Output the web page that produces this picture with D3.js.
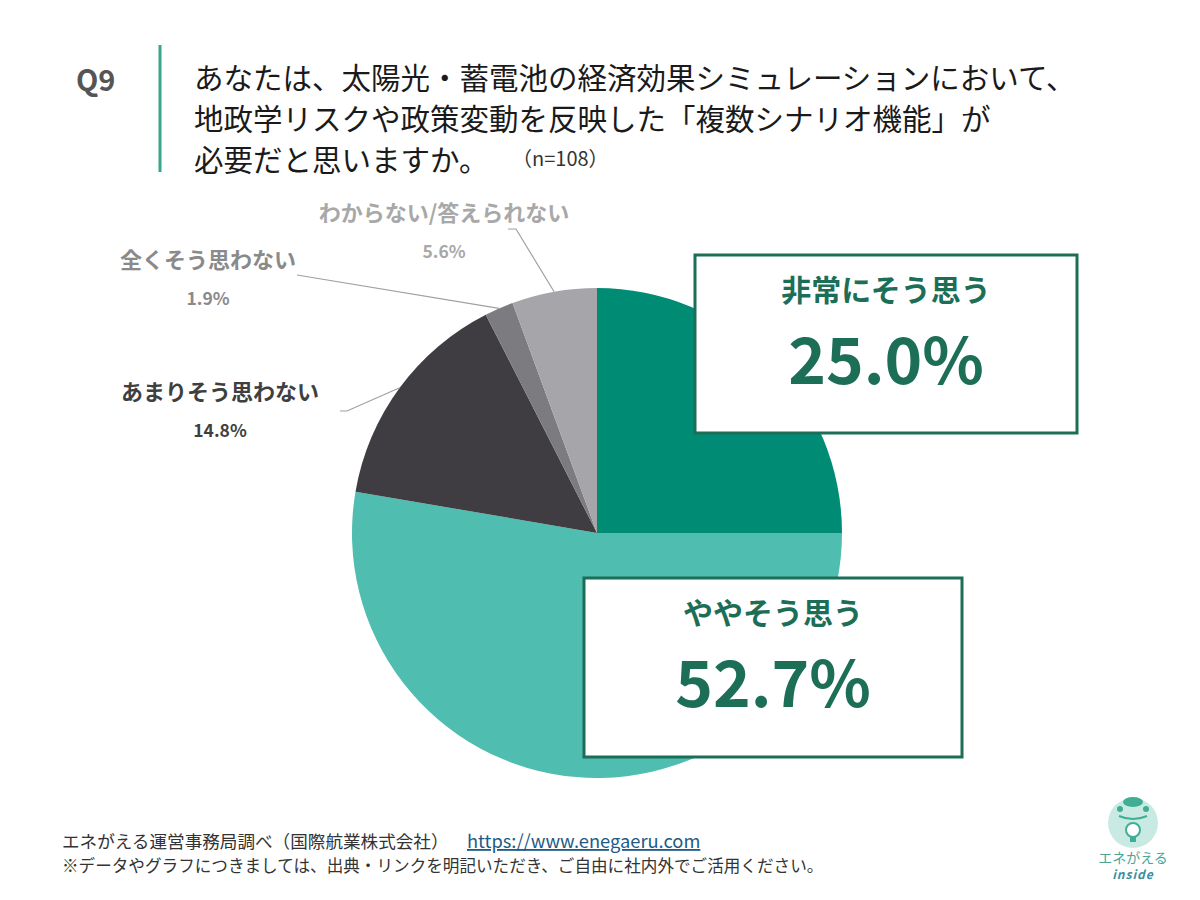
<!DOCTYPE html>
<html>
<head>
<meta charset="utf-8">
<script src="https://cdn.jsdelivr.net/npm/d3@7"></script>
<style>
  body { margin: 0; background: #fff; }
  svg { display: block; }
  text { font-family: "Noto Sans CJK JP", "Noto Sans", sans-serif; }
</style>
</head>
<body>
<svg id="chart"></svg>
<script>
// answers, clockwise from 12 o'clock
const categories = ["非常にそう思う", "ややそう思う", "あまりそう思わない", "全くそう思わない", "わからない/答えられない"];
const shares = [25.0, 52.7, 14.8, 1.9, 5.6];
const sliceColors = ["#008b74", "#4fbdaf", "#3f3d41", "#7c7b7f", "#a6a5a9"];

const titleLines = [
    "あなたは、太陽光・蓄電池の経済効果シミュレーションにおいて、",
    "地政学リスクや政策変動を反映した「複数シナリオ機能」が",
    "必要だと思いますか。"
];

const width = 1200, height = 900;
const cx = 597, cy = 533, radius = 245;
const dark = "#1d6e57";

const svg = d3.select("#chart")
    .attr("width", width)
    .attr("height", height);

// header
svg.append("text")
    .attr("x", 76).attr("y", 91)
    .attr("font-family", "'Open Sans', 'Noto Sans', sans-serif")
    .attr("font-weight", 700)
    .attr("font-size", 29)
    .attr("fill", "#555")
    .text("Q9");

svg.append("line")
    .attr("x1", 160).attr("x2", 160)
    .attr("y1", 45).attr("y2", 172)
    .attr("stroke", "#3aa58f")
    .attr("stroke-width", 3);

svg.append("g").selectAll("text")
    .data(titleLines)
    .join("text")
    .attr("x", 194)
    .attr("y", (d, i) => 89 + i * 41)
    .attr("font-size", 29.5)
    .attr("font-weight", 400)
    .attr("fill", "#1a1a1a")
    .text(d => d);

svg.append("text")
    .attr("x", 512).attr("y", 166)
    .attr("font-size", 20)
    .attr("fill", "#333")
    .text("（n=108）");

// pie
const pie = d3.pie().sort(null).value(d => d.value);
const arcs = pie(categories.map((c, i) => ({ name: c, value: shares[i], color: sliceColors[i] })));

const arc = d3.arc().innerRadius(0).outerRadius(radius);
const rim = d3.arc().innerRadius(radius).outerRadius(radius);

const g = svg.append("g").attr("transform", `translate(${cx},${cy})`);
g.selectAll("path")
    .data(arcs)
    .join("path")
    .attr("d", arc)
    .attr("fill", d => d.data.color);

// outside labels for the small slices
const outside = [
    { i: 4, x: 444, y: 221, color: "#a8a8a8", line: [[508, 229], [516, 229]] },
    { i: 3, x: 208, y: 268, color: "#8a8a8a", line: [[297, 275]] },
    { i: 2, x: 220, y: 400, color: "#3f3f3f", line: [[340, 411], [347, 411]] }
];

outside.forEach(o => {
    const a = arcs[o.i];
    const [ex, ey] = rim.centroid(a);
    const pts = o.line.concat([[cx + ex, cy + ey]]);
    svg.append("polyline")
        .attr("points", pts.map(p => p.join(",")).join(" "))
        .attr("fill", "none")
        .attr("stroke", "#a0a0a0")
        .attr("stroke-width", 1.2);

    svg.append("text")
        .attr("x", o.x).attr("y", o.y)
        .attr("text-anchor", "middle")
        .attr("font-size", 22)
        .attr("font-weight", 700)
        .attr("fill", o.color)
        .text(a.data.name);

    svg.append("text")
        .attr("x", o.x).attr("y", o.y + 37)
        .attr("text-anchor", "middle")
        .attr("font-family", "'Open Sans', 'Noto Sans', sans-serif")
        .attr("font-size", 17.5)
        .attr("font-weight", 700)
        .attr("fill", o.color)
        .text(a.data.value.toFixed(1) + "%");
});

// callout boxes for the two big slices
const boxes = [
    { i: 0, x: 695, y: 255, w: 382, h: 178 },
    { i: 1, x: 584, y: 578, w: 378, h: 179 }
];

boxes.forEach(b => {
    const a = arcs[b.i];
    const bx = svg.append("g").attr("transform", `translate(${b.x},${b.y})`);
    bx.append("rect")
        .attr("width", b.w).attr("height", b.h)
        .attr("fill", "#fff")
        .attr("stroke", dark)
        .attr("stroke-width", 3);
    bx.append("text")
        .attr("x", b.w / 2).attr("y", 46)
        .attr("text-anchor", "middle")
        .attr("font-size", 30)
        .attr("font-weight", 700)
        .attr("fill", dark)
        .text(a.data.name);
    bx.append("text")
        .attr("x", b.w / 2).attr("y", 129)
        .attr("text-anchor", "middle")
        .attr("font-family", "'Open Sans', 'Noto Sans', sans-serif")
        .attr("font-size", 64)
        .attr("font-weight", 700)
        .attr("fill", dark)
        .text(a.data.value.toFixed(1) + "%");
});

// footer
svg.append("text")
    .attr("x", 62).attr("y", 848)
    .attr("font-size", 17.6)
    .attr("fill", "#333")
    .text("エネがえる運営事務局調べ（国際航業株式会社）");

svg.append("text")
    .attr("x", 467).attr("y", 848)
    .attr("font-family", "'Liberation Sans', sans-serif")
    .attr("font-size", 18.3)
    .attr("fill", "#1f5b86")
    .attr("text-decoration", "underline")
    .text("https://www.enegaeru.com");

svg.append("text")
    .attr("x", 62).attr("y", 872)
    .attr("font-size", 16.6)
    .attr("fill", "#333")
    .text("※データやグラフにつきましては、出典・リンクを明記いただき、ご自由に社内外でご活用ください。");

// logo
const logo = svg.append("g").attr("transform", "translate(1133,823)");
logo.append("circle").attr("r", 25).attr("fill", "#c8eae2");
logo.append("ellipse").attr("cx", 0).attr("cy", -21).attr("rx", 10).attr("ry", 5).attr("fill", "#3fae95");
logo.append("circle").attr("cx", -13).attr("cy", -14).attr("r", 3).attr("fill", "#3fae95");
logo.append("circle").attr("cx", 13).attr("cy", -14).attr("r", 3).attr("fill", "#3fae95");
logo.append("path").attr("d", "M-14,-7 Q0,-1 14,-7").attr("fill", "none").attr("stroke", "#3fae95").attr("stroke-width", 2);
logo.append("circle").attr("cx", 0).attr("cy", 7).attr("r", 7).attr("fill", "#fff").attr("stroke", "#3fae95").attr("stroke-width", 2);
logo.append("rect").attr("x", -3).attr("y", 14).attr("width", 6).attr("height", 5).attr("fill", "#3fae95");
logo.append("text")
    .attr("y", 40).attr("text-anchor", "middle")
    .attr("font-size", 14).attr("fill", "#4aa596")
    .text("エネがえる");
logo.append("text")
    .attr("y", 56).attr("text-anchor", "middle")
    .attr("font-family", "'DejaVu Sans', sans-serif")
    .attr("font-size", 12).attr("font-style", "italic").attr("font-weight", 700)
    .attr("letter-spacing", 1)
    .attr("fill", "#3a8fa0")
    .text("inside");
</script>
</body>
</html>
